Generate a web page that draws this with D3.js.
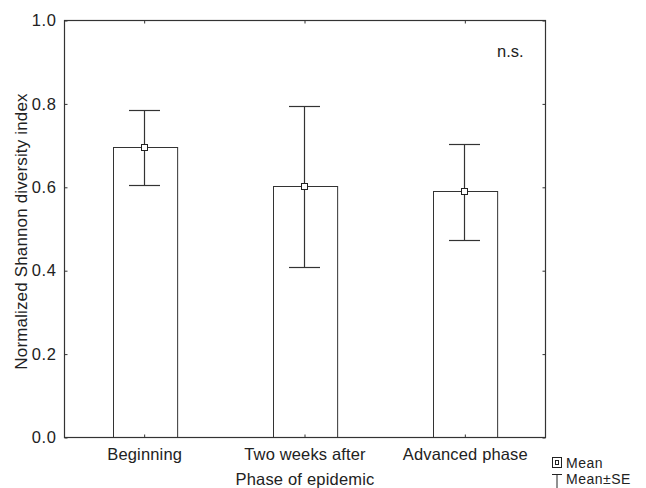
<!DOCTYPE html>
<html><head><meta charset="utf-8">
<script src="https://cdn.jsdelivr.net/npm/d3@7"></script>
<style>
html,body{margin:0;padding:0;background:#fff;}
svg{display:block;}
text{font-family:"Liberation Sans",Arial,sans-serif;fill:#222;}
</style></head>
<body>
<script>
const categories = ["Beginning", "Two weeks after", "Advanced phase"];
const means = [0.696, 0.602, 0.590];
const upperSE = [0.785, 0.794, 0.704];
const lowerSE = [0.605, 0.410, 0.473];
const yTicks = [0.0, 0.2, 0.4, 0.6, 0.8, 1.0];
const yTickLabels = ["0.0", "0.2", "0.4", "0.6", "0.8", "1.0"];
const xTitle = "Phase of epidemic";
const yTitle = "Normalized Shannon diversity index";
const note = "n.s.";
const legendLabels = ["Mean", "Mean\u00B1SE"];

const W = 646, H = 488;
const mLeft = 64.5, mRight = 545.5, mTop = 20.5, mBottom = 437.5;
const fs = 16.5;
const stroke = "#333";

const svg = d3.select("body").append("svg").attr("width", W).attr("height", H);

const x = d3.scaleBand().domain(categories).range([mLeft, mRight]).paddingInner(0).paddingOuter(0);
const y = d3.scaleLinear().domain([0, 1]).range([mBottom, mTop]);

const barW = x.bandwidth() * 0.4;
const capHalf = 15.5;

// bars
svg.append("g").selectAll("rect").data(categories).join("rect")
  .attr("x", d => Math.round(x(d) + x.bandwidth() / 2 - barW / 2) + 0.5)
  .attr("y", (d, i) => Math.round(y(means[i])) + 0.5)
  .attr("width", barW)
  .attr("height", (d, i) => mBottom - (Math.round(y(means[i])) + 0.5))
  .attr("fill", "#fff").attr("stroke", stroke).attr("stroke-width", 1);

// error bars
const eg = svg.append("g").attr("stroke", stroke).attr("stroke-width", 1.2).attr("fill", "none");
categories.forEach((c, i) => {
  const cx = Math.round(x(c) + x.bandwidth() / 2) - 0.5;
  const yu = Math.round(y(upperSE[i])) + 0.5, yl = Math.round(y(lowerSE[i])) + 0.5;
  eg.append("line").attr("x1", cx).attr("x2", cx).attr("y1", yu).attr("y2", yl);
  eg.append("line").attr("x1", cx - capHalf).attr("x2", cx + capHalf).attr("y1", yu).attr("y2", yu);
  eg.append("line").attr("x1", cx - capHalf).attr("x2", cx + capHalf).attr("y1", yl).attr("y2", yl);
  const ym = Math.round(y(means[i])) + 0.5;
  eg.append("rect").attr("x", cx - 3).attr("y", ym - 3).attr("width", 6).attr("height", 6)
    .attr("fill", "#fff").attr("stroke", "#222").attr("stroke-width", 1);
});

// frame
svg.append("rect").attr("x", mLeft).attr("y", mTop).attr("width", mRight - mLeft).attr("height", mBottom - mTop)
  .attr("fill", "none").attr("stroke", stroke).attr("stroke-width", 1.2);

// axes
const yAxis = d3.axisLeft(y).tickValues(yTicks).tickSize(-3).tickPadding(8)
  .tickFormat((d, i) => yTickLabels[i]);
const gy = svg.append("g").attr("transform", `translate(${mLeft},0)`).call(yAxis);
gy.select(".domain").remove();
gy.selectAll("line").attr("stroke", stroke);
gy.selectAll("text").attr("font-size", fs).attr("fill", "#222").attr("letter-spacing", 0.6)
  .style("font-family", '"Liberation Sans",Arial,sans-serif');

const yAxisR = d3.axisRight(y).tickValues(yTicks).tickSize(-3).tickFormat("");
const gyr = svg.append("g").attr("transform", `translate(${mRight},0)`).call(yAxisR);
gyr.select(".domain").remove();
gyr.selectAll("line").attr("stroke", stroke);

const xAxis = d3.axisBottom(x).tickSize(-3).tickPadding(11);
const gx = svg.append("g").attr("transform", `translate(0,${mBottom})`).call(xAxis);
gx.select(".domain").remove();
gx.selectAll("line").attr("stroke", stroke);
gx.selectAll("text").attr("font-size", fs).attr("fill", "#222").attr("dy", null).attr("y", 22.5)
  .attr("letter-spacing", 0.15)
  .style("font-family", '"Liberation Sans",Arial,sans-serif');

const xAxisT = d3.axisTop(x).tickSize(-3).tickFormat("");
const gxt = svg.append("g").attr("transform", `translate(0,${mTop})`).call(xAxisT);
gxt.select(".domain").remove();
gxt.selectAll("line").attr("stroke", stroke);

// titles
svg.append("text").attr("x", (mLeft + mRight) / 2).attr("y", 485).attr("text-anchor", "middle")
  .attr("font-size", fs).attr("letter-spacing", 0.2).text(xTitle);
svg.append("text").attr("transform", `translate(26.5,231.5) rotate(-90)`)
  .attr("text-anchor", "middle").attr("font-size", 17).attr("letter-spacing", 0.15).text(yTitle);

// n.s.
svg.append("text").attr("x", 497).attr("y", 57).attr("font-size", fs).text(note);

// legend
const lfs = 14;
const lg = svg.append("g");
lg.append("rect").attr("x", 552.5).attr("y", 457.5).attr("width", 9).attr("height", 10)
  .attr("fill", "#fff").attr("stroke", "#222").attr("stroke-width", 1);
lg.append("rect").attr("x", 555.5).attr("y", 460.5).attr("width", 3).attr("height", 4)
  .attr("fill", "none").attr("stroke", "#222").attr("stroke-width", 1);
lg.append("line").attr("x1", 552).attr("x2", 562).attr("y1", 474.5).attr("y2", 474.5).attr("stroke", "#222");
lg.append("line").attr("x1", 557).attr("x2", 557).attr("y1", 474.5).attr("y2", 488).attr("stroke", "#222");
lg.append("text").attr("x", 566).attr("y", 467.5).attr("font-size", lfs).attr("letter-spacing", 0.5).text(legendLabels[0]);
lg.append("text").attr("x", 566).attr("y", 483.5).attr("font-size", lfs).attr("letter-spacing", 0.5).text(legendLabels[1]);
</script>
</body></html>
